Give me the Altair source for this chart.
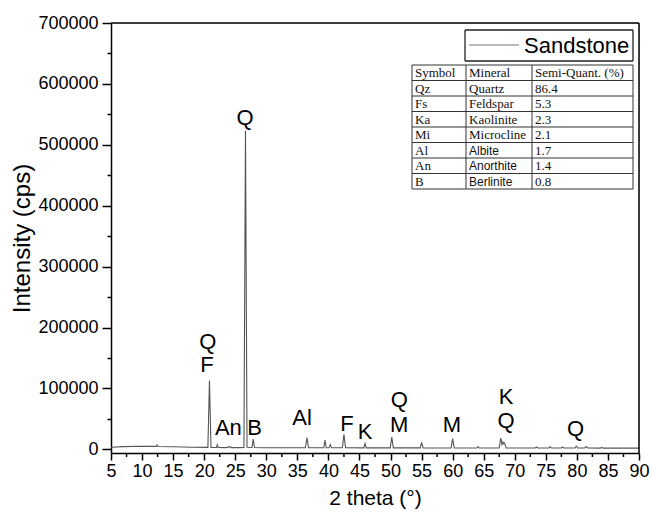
import altair as alt
import pandas as pd

# ---------------- data ----------------
two_theta = [5.0, 7.0, 10.0, 12.3, 12.45, 12.6, 15.0, 18.0, 20.6, 20.85, 21.1,
             22.0, 22.1, 22.25, 23.5, 24.2, 24.35, 25.5, 26.4, 26.65, 26.9,
             27.7, 27.9, 28.1, 29.5, 35.0, 36.3, 36.55, 36.8, 39.25, 39.45, 39.65,
             40.1, 40.3, 40.5, 42.25, 42.5, 42.75, 45.7, 45.9, 46.1, 49.95, 50.2,
             50.45, 54.8, 55.0, 55.25, 59.75, 60.0, 60.25, 63.9, 64.1, 64.3,
             67.5, 67.75, 67.95, 68.1, 68.2, 68.35, 68.6, 73.3, 73.5, 73.7,
             75.5, 75.7, 75.9, 77.5, 77.7, 77.9, 79.7, 79.9, 80.15, 81.25, 81.5,
             81.75, 83.8, 84.0, 84.2, 90.0]
intensity = [3500, 4500, 5000, 4800, 7000, 4700, 4200, 3500, 3200, 113000, 3200,
             3000, 7500, 3000, 2800, 4500, 2800, 2800, 3000, 523000, 3500,
             3000, 17000, 3000, 2600, 2500, 2600, 19500, 2600, 2500, 15000, 2500,
             2500, 8000, 2500, 2500, 24500, 2500, 2400, 9500, 2400, 2400, 20000,
             2400, 2400, 11500, 2400, 2300, 17500, 2300, 2200, 4500, 2200,
             2300, 18500, 8000, 12000, 9000, 10500, 2300, 2200, 3800, 2200,
             2200, 4500, 2200, 2200, 3800, 2200, 2200, 5200, 2200, 2200, 4800,
             2200, 2000, 3200, 2000, 2000]

label_text = ["Q", "Q", "F", "An", "B", "Al", "F", "K", "Q", "M", "M", "K", "Q", "Q"]
label_x = [26.57, 20.6, 20.45, 23.9, 28.1, 35.75, 43.0, 45.9, 51.4, 51.4, 59.9,
           68.6, 68.6, 79.8]
label_y = [544000, 176000, 138000, 34500, 34500, 51000, 41000, 28000, 80500,
           39400, 39400, 86000, 47000, 32900]

series_name = "Sandstone"
table_header = ["Symbol", "Mineral", "Semi-Quant. (%)"]
symbols = ["Qz", "Fs", "Ka", "Mi", "Al", "An", "B"]
minerals = ["Quartz", "Feldspar", "Kaolinite", "Microcline", "Albite",
            "Anorthite", "Berlinite"]
semi_quant = ["86.4", "5.3", "2.3", "2.1", "1.7", "1.4", "0.8"]

x_major = [5, 10, 15, 20, 25, 30, 35, 40, 45, 50, 55, 60, 65, 70, 75, 80, 85, 90]
x_minor = [7.5, 12.5, 17.5, 22.5, 27.5, 32.5, 37.5, 42.5, 47.5, 52.5, 57.5,
           62.5, 67.5, 72.5, 77.5, 82.5, 87.5]
y_ticks = [0, 50000, 100000, 150000, 200000, 250000, 300000, 350000, 400000,
           450000, 500000, 550000, 600000, 650000, 700000]

# ---------------- layout ----------------
W, H = 528, 430
FONT = "Liberation Sans"
SERIF = "Liberation Serif"
line_color = "#555555"

xdom = [5, 90]
ydom = [-6000, 700000]


def xs():
    return alt.Scale(domain=xdom, nice=False, zero=False)


def ys():
    return alt.Scale(domain=ydom, nice=False, zero=False)


pattern = pd.DataFrame({"two_theta": two_theta, "intensity": intensity})

line = alt.Chart(pattern).mark_line(color=line_color, strokeWidth=1.1,
                                    clip=True).encode(
    x=alt.X("two_theta:Q", scale=xs(),
            axis=alt.Axis(values=x_major, title="2 theta (°)", format="d",
                          tickSize=7,
                          labelFontSize=18, labelPadding=2, labelFont=FONT,
                          titleFontSize=21, titleFont=FONT, titleFontWeight="normal",
                          titleX=W / 2, titleY=45, titleBaseline="middle",
                          domainColor="black", domainWidth=1.5,
                          tickColor="black", tickWidth=1.5,
                          labelColor="black", titleColor="black",
                          grid=False, labelFlush=False, labelOverlap=False)),
    y=alt.Y("intensity:Q", scale=ys(),
            axis=alt.Axis(values=y_ticks, title="Intensity (cps)",
                          labelExpr="datum.value % 100000 === 0 ? format(datum.value, 'd') : ''",
                          tickSize={"condition": {"test": "datum.value % 100000 === 0", "value": 9}, "value": 4},
                          labelFontSize=18, labelPadding=4, labelFont=FONT,
                          titleFontSize=24, titleFont=FONT, titleFontWeight="normal",
                          titleX=-89, titleY=H / 2, titleAngle=-90,
                          titleBaseline="middle", titleAlign="center",
                          domainColor="black", domainWidth=1.5,
                          tickColor="black", tickWidth=1.5,
                          labelColor="black", titleColor="black",
                          grid=False, labelFlush=False, labelOverlap=False)),
)

# minor x ticks (below the axis line)
minor = alt.Chart(pd.DataFrame({"x": x_minor})).mark_rule(
    color="black", strokeWidth=1.5).encode(
    x=alt.X("x:Q", scale=xs(), axis=None),
    y=alt.value(H), y2=alt.value(H + 4),
)

labels_df = pd.DataFrame({"x": label_x, "y": label_y, "t": label_text})
labels = alt.Chart(labels_df).mark_text(font=FONT, fontSize=22, color="black",
                                        align="center", baseline="middle").encode(
    x=alt.X("x:Q", scale=xs(), axis=None),
    y=alt.Y("y:Q", scale=ys(), axis=None),
    text="t:N",
)

# frame (top and right edges of the plot box)
frame = alt.Chart(pd.DataFrame({
    "x": [0, W], "x2": [W, W], "y": [0, 0], "y2": [0, H]
})).mark_rule(color="black", strokeWidth=1.5).encode(
    x=alt.X("x:Q", scale=None, axis=None), x2="x2:Q",
    y=alt.Y("y:Q", scale=None, axis=None), y2="y2:Q",
)

# ---------------- legend box (pixel positions relative to plot) ----------------
leg_l, leg_r, leg_t, leg_b = 354, 522, 7, 38
leg_rules = pd.DataFrame({
    "x": [leg_l, leg_l, leg_l, leg_r],
    "x2": [leg_r, leg_r, leg_l, leg_r],
    "y": [leg_t, leg_b, leg_t, leg_t],
    "y2": [leg_t, leg_b, leg_b, leg_b],
})
legend_box = alt.Chart(leg_rules).mark_rule(color="#222222", strokeWidth=1.3).encode(
    x=alt.X("x:Q", scale=None, axis=None), x2="x2:Q",
    y=alt.Y("y:Q", scale=None, axis=None), y2="y2:Q",
)
legend_line = alt.Chart(pd.DataFrame({"n": [series_name]})).mark_rule(
    color="#777777", strokeWidth=1.2).encode(
    x=alt.value(leg_l + 4), x2=alt.value(leg_l + 54), y=alt.value(22))
legend_text = alt.Chart(pd.DataFrame({"n": [series_name]})).mark_text(
    font=FONT, fontSize=22, color="black", align="left", baseline="alphabetic").encode(
    x=alt.value(leg_l + 59), y=alt.value(30), text="n:N")

# ---------------- table ----------------
col_edges = [301, 355, 421, 522]
tab_top = 42
row_h = 15.5
n_rows = len(symbols) + 1
tab_bot = tab_top + n_rows * row_h

rule_rows = []
for i in range(n_rows + 1):
    yy = tab_top + i * row_h
    rule_rows.append({"x": col_edges[0], "x2": col_edges[-1], "y": yy, "y2": yy})
for cx in col_edges:
    rule_rows.append({"x": cx, "x2": cx, "y": tab_top, "y2": tab_bot})
table_rules = alt.Chart(pd.DataFrame(rule_rows)).mark_rule(
    color="#333333", strokeWidth=1).encode(
    x=alt.X("x:Q", scale=None, axis=None), x2="x2:Q",
    y=alt.Y("y:Q", scale=None, axis=None), y2="y2:Q",
)

serif_cells, sans_cells = [], []
rows = [table_header] + [[s, m, q] for s, m, q in zip(symbols, minerals, semi_quant)]
for r, row in enumerate(rows):
    for c, val in enumerate(row):
        cell = {"x": col_edges[c] + 3, "y": tab_top + (r + 1) * row_h - 3.5, "t": val}
        if c == 1 and r >= 5:
            sans_cells.append(cell)
        else:
            serif_cells.append(cell)

table_serif = alt.Chart(pd.DataFrame(serif_cells)).mark_text(
    font=SERIF, fontSize=13, color="#111111", align="left", baseline="alphabetic").encode(
    x=alt.X("x:Q", scale=None, axis=None),
    y=alt.Y("y:Q", scale=None, axis=None), text="t:N")
table_sans = alt.Chart(pd.DataFrame(sans_cells)).mark_text(
    font=FONT, fontSize=12, color="#111111", align="left", baseline="alphabetic").encode(
    x=alt.X("x:Q", scale=None, axis=None),
    y=alt.Y("y:Q", scale=None, axis=None), text="t:N")

chart = alt.layer(
    line, minor, labels, frame, legend_box, legend_line, legend_text,
    table_rules, table_serif, table_sans
).resolve_scale(x="independent", y="independent").properties(
    width=W, height=H,
    autosize=alt.AutoSizeParams(type="none"),
    padding={"left": 111, "top": 23, "right": 12, "bottom": 67},
).configure_view(strokeWidth=0).configure(font=FONT, background="white")

chart.save("out.html", embed_options={"renderer": "svg", "actions": False})
